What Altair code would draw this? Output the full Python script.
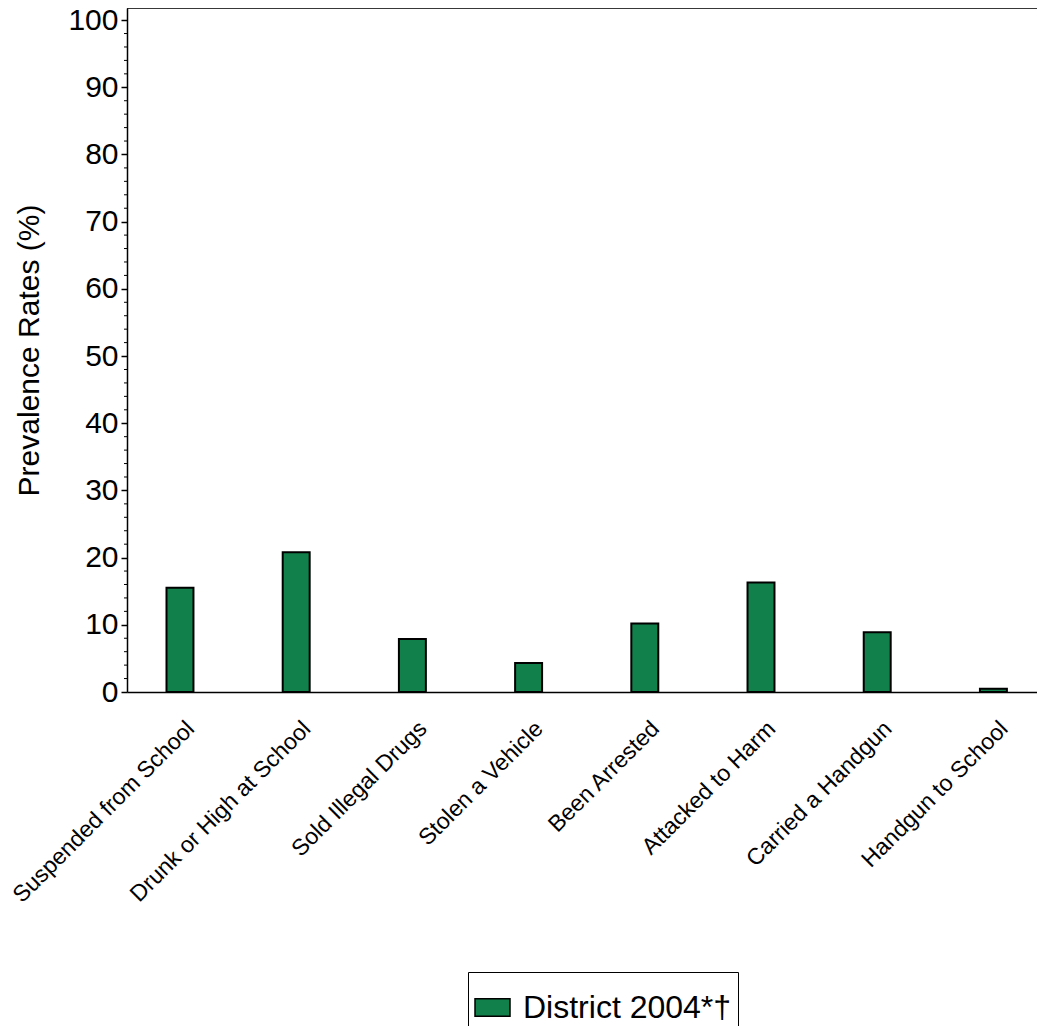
import altair as alt
import pandas as pd

categories = [
    "Suspended from School",
    "Drunk or High at School",
    "Sold Illegal Drugs",
    "Stolen a Vehicle",
    "Been Arrested",
    "Attacked to Harm",
    "Carried a Handgun",
    "Handgun to School",
]
values = [15.5, 20.8, 7.9, 4.3, 10.2, 16.3, 8.9, 0.5]
series_name = "District 2004*\u2020"
y_major = [0, 10, 20, 30, 40, 50, 60, 70, 80, 90, 100]
y_minor = [2, 4, 6, 8, 12, 14, 16, 18, 22, 24, 26, 28, 32, 34, 36, 38,
           42, 44, 46, 48, 52, 54, 56, 58, 62, 64, 66, 68, 72, 74, 76, 78,
           82, 84, 86, 88, 92, 94, 96, 98]

FONT = "Liberation Sans"
W, H = 910, 684
YDOM = [0, 101.8]

df = pd.DataFrame({"Category": categories, "Value": values, "Series": [series_name] * len(categories)})

y_axis = alt.Axis(
    values=y_major, title="Prevalence Rates (%)", titleFontSize=30,
    titleFont=FONT, titleFontWeight="normal", titleColor="black", titlePadding=23,
    labelFontSize=30, labelFont=FONT, labelColor="black", labelPadding=3,
    tickSize=6, tickColor="black", tickWidth=1.5,
    domainColor="black", domainWidth=1.5, grid=False,
)
y_scale = alt.Scale(domain=YDOM, nice=False, zero=True)

bars = alt.Chart(df).mark_bar(stroke="black", strokeWidth=2, opacity=1).encode(
    x=alt.X(
        "Category:N",
        sort=categories,
        title=None,
        scale=alt.Scale(paddingInner=0.768, paddingOuter=0.2995, align=0.5675),
        axis=alt.Axis(
            labelAngle=-45, labelFontSize=23, labelFont=FONT, labelColor="black",
            ticks=False, labelPadding=25, labelOffset=3, labelLimit=0,
            domainColor="black", domainWidth=1.5, grid=False,
        ),
    ),
    y=alt.Y("Value:Q", scale=y_scale, axis=y_axis, title="Prevalence Rates (%)"),
    color=alt.Color(
        "Series:N",
        scale=alt.Scale(range=["#12804A"]),
        legend=alt.Legend(
            title=" ", titleFontSize=8, titlePadding=3,
            orient="none", legendX=341, legendY=964,
            strokeColor="black", fillColor="white", padding=6,
            symbolType="M-1,-0.5H1V0.5H-1Z", symbolSize=1225,
            symbolStrokeColor="black", symbolStrokeWidth=1.5, symbolOpacity=1,
            labelFontSize=32, labelFont=FONT, labelColor="black", labelLimit=0,
            labelOffset=12,
        ),
    ),
)

minor = alt.Chart(pd.DataFrame({"v": y_minor})).mark_rule(color="black", strokeWidth=1).encode(
    y=alt.Y("v:Q", scale=y_scale, axis=y_axis, title="Prevalence Rates (%)"),
    x=alt.value(-3),
    x2=alt.value(0),
)

top = alt.Chart(pd.DataFrame({"a": [0]})).mark_rule(color="black", strokeWidth=1.5).encode(
    x=alt.value(0), x2=alt.value(W), y=alt.value(0)
)

chart = alt.layer(bars, minor, top).properties(
    width=W, height=H,
    autosize=alt.AutoSizeParams(type="none"),
    padding={"left": 119, "top": 0, "right": 0, "bottom": 334},
).configure_view(stroke=None).configure(background="white")

chart.save("out.html", embed_options={"renderer": "svg", "actions": False})
